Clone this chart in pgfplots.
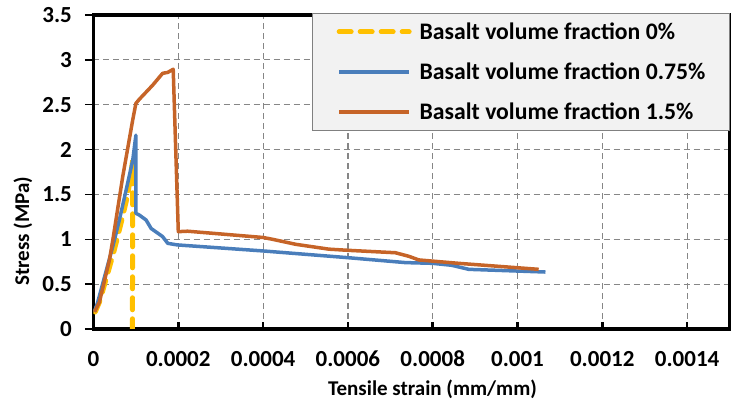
\documentclass[border=0pt]{standalone}
\usepackage{fontspec}
\setmainfont{Carlito}
\usepackage{pgfplots}
\pgfplotsset{compat=1.18}
\definecolor{cyel}{RGB}{255,192,0}
\definecolor{cblue}{RGB}{74,126,187}
\definecolor{corg}{RGB}{198,100,40}
\definecolor{cgrid}{RGB}{134,134,134}
\definecolor{clegfill}{RGB}{242,242,242}
\definecolor{clegdraw}{RGB}{128,128,128}
\begin{document}
\begin{tikzpicture}
\path[use as bounding box] (0,0) rectangle (732pt,406pt);
\begin{axis}[
  at={(93.5pt,77pt)}, anchor=south west,
  scale only axis, width=636pt, height=314pt,
  xmin=0, xmax=0.0015, ymin=0, ymax=3.5,
  xtick={0,0.0002,0.0004,0.0006,0.0008,0.001,0.0012,0.0014},
  xticklabels={0,0.0002,0.0004,0.0006,0.0008,0.001,0.0012,0.0014},
  ytick={0,0.5,1,1.5,2,2.5,3,3.5},
  yticklabels={0,0.5,1,1.5,2,2.5,3,3.5},
  scaled x ticks=false, scaled y ticks=false,
  tick pos=left,
  tick align=inside,
  major tick length=7pt,
  x tick style={black, line width=2.5pt},
  y tick style={black, line width=1.5pt, xshift=-8.5pt},
  grid=major,
  major grid style={cgrid, line width=1.2pt, dash pattern=on 6pt off 4pt},
  axis line style={black, line width=3.5pt},
  ticklabel style={font=\bfseries\fontsize{23}{23}\selectfont, inner sep=0pt},
  xticklabel style={anchor=base, yshift=-38pt},
  yticklabel style={anchor=east, xshift=-21.5pt},
  xlabel={Tensile strain (mm/mm)},
  ylabel={Stress (MPa)},
  label style={font=\bfseries\fontsize{21}{21}\selectfont, inner sep=0pt},
  xlabel style={at={(axis description cs:0.533,0)}, anchor=base, yshift=-66.5pt},
  ylabel style={at={(axis description cs:-0.1108,0.312)}, anchor=center},
  legend style={at={(axis description cs:1.0008,1.0073)}, anchor=north east,
    draw=clegdraw, fill=clegfill, line width=1.2pt,
    inner xsep=24pt, inner ysep=8pt, row sep=19pt, column sep=8pt,
    font=\bfseries\fontsize{23.7}{23.7}\selectfont,
    nodes={inner sep=0pt, text height=18pt, text depth=3pt}, cells={anchor=west}},
  legend cell align=left,
  legend image code/.code={\draw[#1] (0pt,0pt) -- (70pt,0pt);},
]
\addplot[cyel, line width=5pt, dash pattern=on 12pt off 9pt, line cap=round] coordinates {
(0.000004,0.19) (0.000014,0.30) (0.000030,0.56) (0.000049,0.88) (0.000065,1.18)
(0.000081,1.50) (0.0000925,1.88) (0.0000918,0)
};
\addlegendentry{Basalt volume fraction 0\%}
\addplot[cblue, line width=3.5pt, line join=round] coordinates {
(0.0000024,0.193) (0.00001,0.30) (0.000026,0.58) (0.0000455,0.92) (0.000061,1.215)
(0.000077,1.55) (0.0000925,1.88) (0.0001,2.16) (0.0001,1.29) (0.000108,1.27)
(0.000124,1.215) (0.000136,1.12) (0.000163,1.03) (0.000175,0.955) (0.000198,0.937)
(0.0004,0.87) (0.0006,0.795) (0.000736,0.74) (0.0008,0.732) (0.000845,0.71)
(0.000885,0.665) (0.001066,0.635)
};
\addlegendentry{Basalt volume fraction 0.75\%}
\addplot[corg, line width=3.5pt, line join=round] coordinates {
(0.0000024,0.19) (0.000014,0.30) (0.0000376,0.77) (0.0000455,0.99)
(0.000069,1.70) (0.0000925,2.33) (0.0001,2.515) (0.000108,2.56) (0.00014,2.72)
(0.000163,2.85) (0.000175,2.86) (0.000188,2.895) (0.0002,1.085) (0.000222,1.09)
(0.0004,1.02) (0.000422,1.00) (0.000477,0.944) (0.000555,0.89) (0.0006,0.877)
(0.000712,0.85) (0.000744,0.81) (0.000767,0.77) (0.000861,0.732) (0.00105,0.665)
};
\addlegendentry{Basalt volume fraction 1.5\%}
\end{axis}
\end{tikzpicture}
\end{document}
